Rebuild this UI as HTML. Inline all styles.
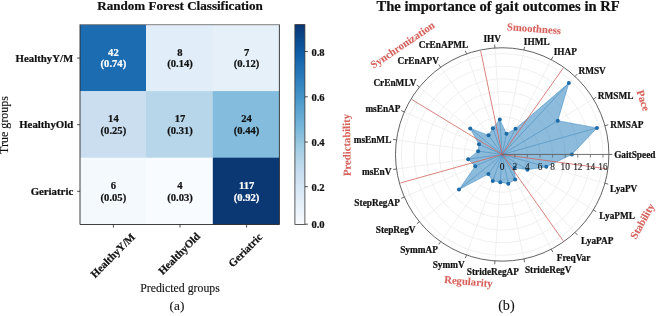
<!DOCTYPE html>
<html><head><meta charset="utf-8"><title>Figure</title>
<style>
html,body{margin:0;padding:0;background:#fff;width:658px;height:316px;overflow:hidden;}
svg{display:block;will-change:transform;}
text{font-family:"Liberation Serif", serif;}
</style></head><body>
<svg width="658" height="316" viewBox="0 0 658 316" font-family='"Liberation Serif", serif' fill="#111"><text x="180" y="10" font-size="13.1" font-weight="bold" fill="#111" stroke="#111" stroke-width="0.22" text-anchor="middle">Random Forest Classification</text>
<rect x="80" y="24.7" width="66.3" height="66.7" fill="#1c6cb1"/>
<rect x="146" y="24.7" width="67.1" height="66.7" fill="#e1edf8"/>
<rect x="212.8" y="24.7" width="66.6" height="66.7" fill="#e5f0f9"/>
<rect x="80" y="91.1" width="66.3" height="66.9" fill="#cbdef0"/>
<rect x="146" y="91.1" width="67.1" height="66.9" fill="#b7d6ea"/>
<rect x="212.8" y="91.1" width="66.6" height="66.9" fill="#83bcdc"/>
<rect x="80" y="157.7" width="66.3" height="66.8" fill="#f4f9fe"/>
<rect x="146" y="157.7" width="67.1" height="66.8" fill="#f8fbff"/>
<rect x="212.8" y="157.7" width="66.6" height="66.8" fill="#0b3773"/>
<text x="113.4" y="55.6" font-size="10.6" font-weight="bold" fill="#ffffff" stroke="#ffffff" stroke-width="0.22" text-anchor="middle">42</text>
<text x="113.4" y="67.4" font-size="10.6" font-weight="bold" fill="#ffffff" stroke="#ffffff" stroke-width="0.22" text-anchor="middle">(0.74)</text>
<text x="180" y="55.6" font-size="10.6" font-weight="bold" fill="#111111" stroke="#111111" stroke-width="0.22" text-anchor="middle">8</text>
<text x="180" y="67.4" font-size="10.6" font-weight="bold" fill="#111111" stroke="#111111" stroke-width="0.22" text-anchor="middle">(0.14)</text>
<text x="246.6" y="55.6" font-size="10.6" font-weight="bold" fill="#111111" stroke="#111111" stroke-width="0.22" text-anchor="middle">7</text>
<text x="246.6" y="67.4" font-size="10.6" font-weight="bold" fill="#111111" stroke="#111111" stroke-width="0.22" text-anchor="middle">(0.12)</text>
<text x="113.4" y="122.2" font-size="10.6" font-weight="bold" fill="#111111" stroke="#111111" stroke-width="0.22" text-anchor="middle">14</text>
<text x="113.4" y="134" font-size="10.6" font-weight="bold" fill="#111111" stroke="#111111" stroke-width="0.22" text-anchor="middle">(0.25)</text>
<text x="180" y="122.2" font-size="10.6" font-weight="bold" fill="#111111" stroke="#111111" stroke-width="0.22" text-anchor="middle">17</text>
<text x="180" y="134" font-size="10.6" font-weight="bold" fill="#111111" stroke="#111111" stroke-width="0.22" text-anchor="middle">(0.31)</text>
<text x="246.6" y="122.2" font-size="10.6" font-weight="bold" fill="#111111" stroke="#111111" stroke-width="0.22" text-anchor="middle">24</text>
<text x="246.6" y="134" font-size="10.6" font-weight="bold" fill="#111111" stroke="#111111" stroke-width="0.22" text-anchor="middle">(0.44)</text>
<text x="113.4" y="188.8" font-size="10.6" font-weight="bold" fill="#111111" stroke="#111111" stroke-width="0.22" text-anchor="middle">6</text>
<text x="113.4" y="200.6" font-size="10.6" font-weight="bold" fill="#111111" stroke="#111111" stroke-width="0.22" text-anchor="middle">(0.05)</text>
<text x="180" y="188.8" font-size="10.6" font-weight="bold" fill="#111111" stroke="#111111" stroke-width="0.22" text-anchor="middle">4</text>
<text x="180" y="200.6" font-size="10.6" font-weight="bold" fill="#111111" stroke="#111111" stroke-width="0.22" text-anchor="middle">(0.03)</text>
<text x="246.6" y="188.8" font-size="10.6" font-weight="bold" fill="#ffffff" stroke="#ffffff" stroke-width="0.22" text-anchor="middle">117</text>
<text x="246.6" y="200.6" font-size="10.6" font-weight="bold" fill="#ffffff" stroke="#ffffff" stroke-width="0.22" text-anchor="middle">(0.92)</text>
<path d="M80,24.7V224.5H279.4V24.7" fill="none" stroke="#2a2a2a" stroke-width="0.9"/>
<line x1="79.55" y1="24.7" x2="279.85" y2="24.7" stroke="#6a6a6a" stroke-width="0.85"/>
<line x1="77.1" y1="58.1" x2="80.1" y2="58.1" stroke="#222" stroke-width="0.8"/>
<text x="73.2" y="61.8" font-size="10.8" font-weight="bold" fill="#111" stroke="#111" stroke-width="0.22" text-anchor="end">HealthyY/M</text>
<line x1="77.1" y1="124.7" x2="80.1" y2="124.7" stroke="#222" stroke-width="0.8"/>
<text x="73.2" y="128.4" font-size="10.8" font-weight="bold" fill="#111" stroke="#111" stroke-width="0.22" text-anchor="end">HealthyOld</text>
<line x1="77.1" y1="191.3" x2="80.1" y2="191.3" stroke="#222" stroke-width="0.8"/>
<text x="73.2" y="195" font-size="10.8" font-weight="bold" fill="#111" stroke="#111" stroke-width="0.22" text-anchor="end">Geriatric</text>
<line x1="113.4" y1="224.6" x2="113.4" y2="227.6" stroke="#222" stroke-width="0.8"/>
<text transform="translate(112.8,255.5) rotate(-45)" x="0" y="3.6" font-size="10.8" font-weight="bold" fill="#111" stroke="#111" stroke-width="0.22" text-anchor="middle">HealthyY/M</text>
<line x1="180" y1="224.6" x2="180" y2="227.6" stroke="#222" stroke-width="0.8"/>
<text transform="translate(179.2,253.6) rotate(-45)" x="0" y="3.6" font-size="10.8" font-weight="bold" fill="#111" stroke="#111" stroke-width="0.22" text-anchor="middle">HealthyOld</text>
<line x1="246.6" y1="224.6" x2="246.6" y2="227.6" stroke="#222" stroke-width="0.8"/>
<text transform="translate(245.3,250.2) rotate(-45)" x="0" y="3.6" font-size="10.8" font-weight="bold" fill="#111" stroke="#111" stroke-width="0.22" text-anchor="middle">Geriatric</text>
<text x="180" y="292" font-size="11.8" stroke="#111" stroke-width="0.12" text-anchor="middle">Predicted groups</text>
<text transform="translate(8.4,125.0) rotate(-90)" x="0" y="0" font-size="12" stroke="#111" stroke-width="0.12" text-anchor="middle">True groups</text>
<text x="177" y="310" font-size="13.3" stroke="#111" stroke-width="0.1" text-anchor="middle">(a)</text>
<defs><linearGradient id="cb" x1="0" y1="0" x2="0" y2="1"><stop offset="0" stop-color="#0b3773"/><stop offset="0.05" stop-color="#0b4485"/><stop offset="0.1" stop-color="#0b5298"/><stop offset="0.15" stop-color="#105fa7"/><stop offset="0.2" stop-color="#1c6cb1"/><stop offset="0.25" stop-color="#2678b9"/><stop offset="0.3" stop-color="#3485c0"/><stop offset="0.35" stop-color="#4292c7"/><stop offset="0.4" stop-color="#529ecd"/><stop offset="0.45" stop-color="#63a9d3"/><stop offset="0.5" stop-color="#72b3d9"/><stop offset="0.55" stop-color="#86bedd"/><stop offset="0.6" stop-color="#9ac9e1"/><stop offset="0.65" stop-color="#acd1e6"/><stop offset="0.7" stop-color="#bcd8eb"/><stop offset="0.75" stop-color="#cadef0"/><stop offset="0.8" stop-color="#d3e4f3"/><stop offset="0.85" stop-color="#dceaf6"/><stop offset="0.9" stop-color="#e5f0f9"/><stop offset="0.95" stop-color="#eff6fc"/><stop offset="1" stop-color="#f8fbff"/></linearGradient></defs>
<rect x="294.9" y="24.6" width="10" height="199.8" fill="url(#cb)" stroke="#333" stroke-width="0.8"/>
<line x1="304.9" y1="51.5" x2="307.9" y2="51.5" stroke="#222" stroke-width="0.8"/>
<text x="311.4" y="55.7" font-size="10.6" font-weight="bold" fill="#111" stroke="#111" stroke-width="0.22">0.8</text>
<line x1="304.9" y1="96.8" x2="307.9" y2="96.8" stroke="#222" stroke-width="0.8"/>
<text x="311.4" y="101" font-size="10.6" font-weight="bold" fill="#111" stroke="#111" stroke-width="0.22">0.6</text>
<line x1="304.9" y1="142" x2="307.9" y2="142" stroke="#222" stroke-width="0.8"/>
<text x="311.4" y="146.2" font-size="10.6" font-weight="bold" fill="#111" stroke="#111" stroke-width="0.22">0.4</text>
<line x1="304.9" y1="186.7" x2="307.9" y2="186.7" stroke="#222" stroke-width="0.8"/>
<text x="311.4" y="190.9" font-size="10.6" font-weight="bold" fill="#111" stroke="#111" stroke-width="0.22">0.2</text>
<line x1="304.9" y1="224.2" x2="307.9" y2="224.2" stroke="#222" stroke-width="0.8"/>
<text x="311.4" y="228.4" font-size="10.6" font-weight="bold" fill="#111" stroke="#111" stroke-width="0.22">0.0</text>
<text x="498.1" y="11" font-size="14.6" font-weight="bold" fill="#111" stroke="#111" stroke-width="0.22" text-anchor="middle">The importance of gait outcomes in RF</text>
<circle cx="502.2" cy="154.45" r="12.6" fill="none" stroke="#e9e9e9" stroke-width="0.7"/>
<circle cx="502.2" cy="154.45" r="25.2" fill="none" stroke="#e9e9e9" stroke-width="0.7"/>
<circle cx="502.2" cy="154.45" r="37.8" fill="none" stroke="#e9e9e9" stroke-width="0.7"/>
<circle cx="502.2" cy="154.45" r="50.4" fill="none" stroke="#e9e9e9" stroke-width="0.7"/>
<circle cx="502.2" cy="154.45" r="63" fill="none" stroke="#e9e9e9" stroke-width="0.7"/>
<circle cx="502.2" cy="154.45" r="75.6" fill="none" stroke="#e9e9e9" stroke-width="0.7"/>
<circle cx="502.2" cy="154.45" r="88.2" fill="none" stroke="#e9e9e9" stroke-width="0.7"/>
<circle cx="502.2" cy="154.45" r="100.8" fill="none" stroke="#e9e9e9" stroke-width="0.7"/>
<line x1="502.2" y1="154.45" x2="608.9" y2="154.45" stroke="#e9e9e9" stroke-width="0.7"/>
<line x1="502.2" y1="154.45" x2="604.94" y2="125.66" stroke="#e9e9e9" stroke-width="0.7"/>
<line x1="502.2" y1="154.45" x2="593.37" y2="99.01" stroke="#e9e9e9" stroke-width="0.7"/>
<line x1="502.2" y1="154.45" x2="575.03" y2="76.47" stroke="#e9e9e9" stroke-width="0.7"/>
<line x1="502.2" y1="154.45" x2="551.29" y2="59.71" stroke="#e9e9e9" stroke-width="0.7"/>
<line x1="502.2" y1="154.45" x2="523.91" y2="49.98" stroke="#e9e9e9" stroke-width="0.7"/>
<line x1="502.2" y1="154.45" x2="494.92" y2="48" stroke="#e9e9e9" stroke-width="0.7"/>
<line x1="502.2" y1="154.45" x2="466.47" y2="53.91" stroke="#e9e9e9" stroke-width="0.7"/>
<line x1="502.2" y1="154.45" x2="440.67" y2="67.28" stroke="#e9e9e9" stroke-width="0.7"/>
<line x1="502.2" y1="154.45" x2="419.43" y2="87.11" stroke="#e9e9e9" stroke-width="0.7"/>
<line x1="502.2" y1="154.45" x2="404.33" y2="111.94" stroke="#e9e9e9" stroke-width="0.7"/>
<line x1="502.2" y1="154.45" x2="396.49" y2="139.92" stroke="#e9e9e9" stroke-width="0.7"/>
<line x1="502.2" y1="154.45" x2="396.49" y2="168.98" stroke="#e9e9e9" stroke-width="0.7"/>
<line x1="502.2" y1="154.45" x2="404.33" y2="196.96" stroke="#e9e9e9" stroke-width="0.7"/>
<line x1="502.2" y1="154.45" x2="419.43" y2="221.79" stroke="#e9e9e9" stroke-width="0.7"/>
<line x1="502.2" y1="154.45" x2="440.67" y2="241.62" stroke="#e9e9e9" stroke-width="0.7"/>
<line x1="502.2" y1="154.45" x2="466.47" y2="254.99" stroke="#e9e9e9" stroke-width="0.7"/>
<line x1="502.2" y1="154.45" x2="494.92" y2="260.9" stroke="#e9e9e9" stroke-width="0.7"/>
<line x1="502.2" y1="154.45" x2="523.91" y2="258.92" stroke="#e9e9e9" stroke-width="0.7"/>
<line x1="502.2" y1="154.45" x2="551.29" y2="249.19" stroke="#e9e9e9" stroke-width="0.7"/>
<line x1="502.2" y1="154.45" x2="575.03" y2="232.43" stroke="#e9e9e9" stroke-width="0.7"/>
<line x1="502.2" y1="154.45" x2="593.37" y2="209.89" stroke="#e9e9e9" stroke-width="0.7"/>
<line x1="502.2" y1="154.45" x2="604.94" y2="183.24" stroke="#e9e9e9" stroke-width="0.7"/>
<polygon points="571.9,154.45 596.95,127.9 557.74,120.68 568.85,83.08 515.5,128.79 506.49,133.79 499.81,119.48 492.89,128.26 488.59,135.17 470.24,128.45 478.99,144.37 478.13,151.14 468.12,159.13 475.23,166.16 458.99,189.6 488.36,174.06 492.72,181.12 500.3,182.19 508.3,183.82 515.17,179.49 514.62,167.75 527.41,169.78 546.3,166.81" fill="#1a78ba" fill-opacity="0.5" stroke="#1f77b4" stroke-opacity="0.6" stroke-width="0.7"/>
<line x1="502.2" y1="154.45" x2="571.9" y2="154.45" stroke="#1f77b4" stroke-opacity="0.45" stroke-width="0.7"/>
<line x1="502.2" y1="154.45" x2="596.95" y2="127.9" stroke="#1f77b4" stroke-opacity="0.45" stroke-width="0.7"/>
<line x1="502.2" y1="154.45" x2="557.74" y2="120.68" stroke="#1f77b4" stroke-opacity="0.45" stroke-width="0.7"/>
<line x1="502.2" y1="154.45" x2="568.85" y2="83.08" stroke="#1f77b4" stroke-opacity="0.45" stroke-width="0.7"/>
<line x1="502.2" y1="154.45" x2="515.5" y2="128.79" stroke="#1f77b4" stroke-opacity="0.45" stroke-width="0.7"/>
<line x1="502.2" y1="154.45" x2="506.49" y2="133.79" stroke="#1f77b4" stroke-opacity="0.45" stroke-width="0.7"/>
<line x1="502.2" y1="154.45" x2="499.81" y2="119.48" stroke="#1f77b4" stroke-opacity="0.45" stroke-width="0.7"/>
<line x1="502.2" y1="154.45" x2="492.89" y2="128.26" stroke="#1f77b4" stroke-opacity="0.45" stroke-width="0.7"/>
<line x1="502.2" y1="154.45" x2="488.59" y2="135.17" stroke="#1f77b4" stroke-opacity="0.45" stroke-width="0.7"/>
<line x1="502.2" y1="154.45" x2="470.24" y2="128.45" stroke="#1f77b4" stroke-opacity="0.45" stroke-width="0.7"/>
<line x1="502.2" y1="154.45" x2="478.99" y2="144.37" stroke="#1f77b4" stroke-opacity="0.45" stroke-width="0.7"/>
<line x1="502.2" y1="154.45" x2="478.13" y2="151.14" stroke="#1f77b4" stroke-opacity="0.45" stroke-width="0.7"/>
<line x1="502.2" y1="154.45" x2="468.12" y2="159.13" stroke="#1f77b4" stroke-opacity="0.45" stroke-width="0.7"/>
<line x1="502.2" y1="154.45" x2="475.23" y2="166.16" stroke="#1f77b4" stroke-opacity="0.45" stroke-width="0.7"/>
<line x1="502.2" y1="154.45" x2="458.99" y2="189.6" stroke="#1f77b4" stroke-opacity="0.45" stroke-width="0.7"/>
<line x1="502.2" y1="154.45" x2="488.36" y2="174.06" stroke="#1f77b4" stroke-opacity="0.45" stroke-width="0.7"/>
<line x1="502.2" y1="154.45" x2="492.72" y2="181.12" stroke="#1f77b4" stroke-opacity="0.45" stroke-width="0.7"/>
<line x1="502.2" y1="154.45" x2="500.3" y2="182.19" stroke="#1f77b4" stroke-opacity="0.45" stroke-width="0.7"/>
<line x1="502.2" y1="154.45" x2="508.3" y2="183.82" stroke="#1f77b4" stroke-opacity="0.45" stroke-width="0.7"/>
<line x1="502.2" y1="154.45" x2="515.17" y2="179.49" stroke="#1f77b4" stroke-opacity="0.45" stroke-width="0.7"/>
<line x1="502.2" y1="154.45" x2="514.62" y2="167.75" stroke="#1f77b4" stroke-opacity="0.45" stroke-width="0.7"/>
<line x1="502.2" y1="154.45" x2="527.41" y2="169.78" stroke="#1f77b4" stroke-opacity="0.45" stroke-width="0.7"/>
<line x1="502.2" y1="154.45" x2="546.3" y2="166.81" stroke="#1f77b4" stroke-opacity="0.45" stroke-width="0.7"/>
<line x1="502.2" y1="154.45" x2="563.16" y2="68.1" stroke="#d0665f" stroke-opacity="0.85" stroke-width="0.95"/>
<line x1="502.2" y1="154.45" x2="480.69" y2="50.96" stroke="#d0665f" stroke-opacity="0.85" stroke-width="0.95"/>
<line x1="502.2" y1="154.45" x2="411.89" y2="99.53" stroke="#d0665f" stroke-opacity="0.85" stroke-width="0.95"/>
<line x1="502.2" y1="154.45" x2="400.42" y2="182.97" stroke="#d0665f" stroke-opacity="0.85" stroke-width="0.95"/>
<line x1="502.2" y1="154.45" x2="563.16" y2="240.8" stroke="#d0665f" stroke-opacity="0.85" stroke-width="0.95"/>
<line x1="502.2" y1="154.45" x2="606.92" y2="168.84" stroke="#d0665f" stroke-opacity="0.85" stroke-width="0.95"/>
<circle cx="571.9" cy="154.45" r="2.0" fill="#1c6aa6"/>
<circle cx="596.95" cy="127.9" r="2.0" fill="#1c6aa6"/>
<circle cx="557.74" cy="120.68" r="2.0" fill="#1c6aa6"/>
<circle cx="568.85" cy="83.08" r="2.0" fill="#1c6aa6"/>
<circle cx="515.5" cy="128.79" r="2.0" fill="#1c6aa6"/>
<circle cx="506.49" cy="133.79" r="2.0" fill="#1c6aa6"/>
<circle cx="499.81" cy="119.48" r="2.0" fill="#1c6aa6"/>
<circle cx="492.89" cy="128.26" r="2.0" fill="#1c6aa6"/>
<circle cx="488.59" cy="135.17" r="2.0" fill="#1c6aa6"/>
<circle cx="470.24" cy="128.45" r="2.0" fill="#1c6aa6"/>
<circle cx="478.99" cy="144.37" r="2.0" fill="#1c6aa6"/>
<circle cx="478.13" cy="151.14" r="2.0" fill="#1c6aa6"/>
<circle cx="468.12" cy="159.13" r="2.0" fill="#1c6aa6"/>
<circle cx="475.23" cy="166.16" r="2.0" fill="#1c6aa6"/>
<circle cx="458.99" cy="189.6" r="2.0" fill="#1c6aa6"/>
<circle cx="488.36" cy="174.06" r="2.0" fill="#1c6aa6"/>
<circle cx="492.72" cy="181.12" r="2.0" fill="#1c6aa6"/>
<circle cx="500.3" cy="182.19" r="2.0" fill="#1c6aa6"/>
<circle cx="508.3" cy="183.82" r="2.0" fill="#1c6aa6"/>
<circle cx="515.17" cy="179.49" r="2.0" fill="#1c6aa6"/>
<circle cx="514.62" cy="167.75" r="2.0" fill="#1c6aa6"/>
<circle cx="527.41" cy="169.78" r="2.0" fill="#1c6aa6"/>
<circle cx="546.3" cy="166.81" r="2.0" fill="#1c6aa6"/>
<circle cx="502.2" cy="154.45" r="106.7" fill="none" stroke="#5a5a5a" stroke-width="0.95"/>
<line x1="608.9" y1="154.45" x2="612.3" y2="154.45" stroke="#444" stroke-width="0.8"/>
<line x1="604.94" y1="125.66" x2="608.22" y2="124.75" stroke="#444" stroke-width="0.8"/>
<line x1="593.37" y1="99.01" x2="596.27" y2="97.24" stroke="#444" stroke-width="0.8"/>
<line x1="575.03" y1="76.47" x2="577.35" y2="73.98" stroke="#444" stroke-width="0.8"/>
<line x1="551.29" y1="59.71" x2="552.85" y2="56.69" stroke="#444" stroke-width="0.8"/>
<line x1="523.91" y1="49.98" x2="524.6" y2="46.65" stroke="#444" stroke-width="0.8"/>
<line x1="494.92" y1="48" x2="494.69" y2="44.61" stroke="#444" stroke-width="0.8"/>
<line x1="466.47" y1="53.91" x2="465.33" y2="50.71" stroke="#444" stroke-width="0.8"/>
<line x1="440.67" y1="67.28" x2="438.71" y2="64.5" stroke="#444" stroke-width="0.8"/>
<line x1="419.43" y1="87.11" x2="416.79" y2="84.97" stroke="#444" stroke-width="0.8"/>
<line x1="404.33" y1="111.94" x2="401.22" y2="110.59" stroke="#444" stroke-width="0.8"/>
<line x1="396.49" y1="139.92" x2="393.13" y2="139.46" stroke="#444" stroke-width="0.8"/>
<line x1="396.49" y1="168.98" x2="393.13" y2="169.44" stroke="#444" stroke-width="0.8"/>
<line x1="404.33" y1="196.96" x2="401.22" y2="198.31" stroke="#444" stroke-width="0.8"/>
<line x1="419.43" y1="221.79" x2="416.79" y2="223.93" stroke="#444" stroke-width="0.8"/>
<line x1="440.67" y1="241.62" x2="438.71" y2="244.4" stroke="#444" stroke-width="0.8"/>
<line x1="466.47" y1="254.99" x2="465.33" y2="258.19" stroke="#444" stroke-width="0.8"/>
<line x1="494.92" y1="260.9" x2="494.69" y2="264.29" stroke="#444" stroke-width="0.8"/>
<line x1="523.91" y1="258.92" x2="524.6" y2="262.25" stroke="#444" stroke-width="0.8"/>
<line x1="551.29" y1="249.19" x2="552.85" y2="252.21" stroke="#444" stroke-width="0.8"/>
<line x1="575.03" y1="232.43" x2="577.35" y2="234.92" stroke="#444" stroke-width="0.8"/>
<line x1="593.37" y1="209.89" x2="596.27" y2="211.66" stroke="#444" stroke-width="0.8"/>
<line x1="604.94" y1="183.24" x2="608.22" y2="184.15" stroke="#444" stroke-width="0.8"/>
<line x1="502.2" y1="154.45" x2="608.9" y2="154.45" stroke="#666" stroke-width="0.9"/>
<line x1="514.8" y1="154.45" x2="514.8" y2="157.45" stroke="#666" stroke-width="0.8"/>
<line x1="527.4" y1="154.45" x2="527.4" y2="157.45" stroke="#666" stroke-width="0.8"/>
<line x1="540" y1="154.45" x2="540" y2="157.45" stroke="#666" stroke-width="0.8"/>
<line x1="552.6" y1="154.45" x2="552.6" y2="157.45" stroke="#666" stroke-width="0.8"/>
<line x1="565.2" y1="154.45" x2="565.2" y2="157.45" stroke="#666" stroke-width="0.8"/>
<line x1="577.8" y1="154.45" x2="577.8" y2="157.45" stroke="#666" stroke-width="0.8"/>
<line x1="590.4" y1="154.45" x2="590.4" y2="157.45" stroke="#666" stroke-width="0.8"/>
<line x1="603" y1="154.45" x2="603" y2="157.45" stroke="#666" stroke-width="0.8"/>
<text x="502.2" y="170" font-size="9.3" fill="#1c1c1c" stroke="#1c1c1c" stroke-width="0.12" text-anchor="middle">0</text>
<text x="514.8" y="170" font-size="9.3" fill="#1c1c1c" stroke="#1c1c1c" stroke-width="0.12" text-anchor="middle">2</text>
<text x="527.4" y="170" font-size="9.3" fill="#1c1c1c" stroke="#1c1c1c" stroke-width="0.12" text-anchor="middle">4</text>
<text x="540" y="170" font-size="9.3" fill="#1c1c1c" stroke="#1c1c1c" stroke-width="0.12" text-anchor="middle">6</text>
<text x="552.6" y="170" font-size="9.3" fill="#1c1c1c" stroke="#1c1c1c" stroke-width="0.12" text-anchor="middle">8</text>
<text x="565.2" y="170" font-size="9.3" fill="#1c1c1c" stroke="#1c1c1c" stroke-width="0.12" text-anchor="middle">10</text>
<text x="577.8" y="170" font-size="9.3" fill="#1c1c1c" stroke="#1c1c1c" stroke-width="0.12" text-anchor="middle">12</text>
<text x="590.4" y="170" font-size="9.3" fill="#1c1c1c" stroke="#1c1c1c" stroke-width="0.12" text-anchor="middle">14</text>
<text x="603" y="170" font-size="9.3" fill="#1c1c1c" stroke="#1c1c1c" stroke-width="0.12" text-anchor="middle">16</text>
<text x="634.8" y="158" font-size="9.3" font-weight="bold" fill="#111" stroke="#111" stroke-width="0.22" text-anchor="middle">GaitSpeed</text>
<text x="626.85" y="128" font-size="9.3" font-weight="bold" fill="#111" stroke="#111" stroke-width="0.22" text-anchor="middle">RMSAP</text>
<text x="615.6" y="99" font-size="9.3" font-weight="bold" fill="#111" stroke="#111" stroke-width="0.22" text-anchor="middle">RMSML</text>
<text x="592.15" y="74" font-size="9.3" font-weight="bold" fill="#111" stroke="#111" stroke-width="0.22" text-anchor="middle">RMSV</text>
<text x="565.3" y="55" font-size="9.3" font-weight="bold" fill="#111" stroke="#111" stroke-width="0.22" text-anchor="middle">IHAP</text>
<text x="536.7" y="45" font-size="9.3" font-weight="bold" fill="#111" stroke="#111" stroke-width="0.22" text-anchor="middle">IHML</text>
<text x="492.25" y="42" font-size="9.3" font-weight="bold" fill="#111" stroke="#111" stroke-width="0.22" text-anchor="middle">IHV</text>
<text x="443.5" y="48" font-size="9.3" font-weight="bold" fill="#111" stroke="#111" stroke-width="0.22" text-anchor="middle">CrEnAPML</text>
<text x="418.2" y="64" font-size="9.3" font-weight="bold" fill="#111" stroke="#111" stroke-width="0.22" text-anchor="middle">CrEnAPV</text>
<text x="394.95" y="86" font-size="9.3" font-weight="bold" fill="#111" stroke="#111" stroke-width="0.22" text-anchor="middle">CrEnMLV</text>
<text x="382.95" y="112" font-size="9.3" font-weight="bold" fill="#111" stroke="#111" stroke-width="0.22" text-anchor="middle">msEnAP</text>
<text x="372.5" y="143" font-size="9.3" font-weight="bold" fill="#111" stroke="#111" stroke-width="0.22" text-anchor="middle">msEnML</text>
<text x="376.7" y="175" font-size="9.3" font-weight="bold" fill="#111" stroke="#111" stroke-width="0.22" text-anchor="middle">msEnV</text>
<text x="377.1" y="206" font-size="9.3" font-weight="bold" fill="#111" stroke="#111" stroke-width="0.22" text-anchor="middle">StepRegAP</text>
<text x="395.65" y="233" font-size="9.3" font-weight="bold" fill="#111" stroke="#111" stroke-width="0.22" text-anchor="middle">StepRegV</text>
<text x="419" y="253" font-size="9.3" font-weight="bold" fill="#111" stroke="#111" stroke-width="0.22" text-anchor="middle">SymmAP</text>
<text x="448.65" y="268" font-size="9.3" font-weight="bold" fill="#111" stroke="#111" stroke-width="0.22" text-anchor="middle">SymmV</text>
<text x="492.9" y="275" font-size="9.3" font-weight="bold" fill="#111" stroke="#111" stroke-width="0.22" text-anchor="middle">StrideRegAP</text>
<text x="548.15" y="273" font-size="9.3" font-weight="bold" fill="#111" stroke="#111" stroke-width="0.22" text-anchor="middle">StrideRegV</text>
<text x="573.5" y="261" font-size="9.3" font-weight="bold" fill="#111" stroke="#111" stroke-width="0.22" text-anchor="middle">FreqVar</text>
<text x="597.3" y="244" font-size="9.3" font-weight="bold" fill="#111" stroke="#111" stroke-width="0.22" text-anchor="middle">LyaPAP</text>
<text x="617.15" y="219" font-size="9.3" font-weight="bold" fill="#111" stroke="#111" stroke-width="0.22" text-anchor="middle">LyaPML</text>
<text x="623.65" y="192" font-size="9.3" font-weight="bold" fill="#111" stroke="#111" stroke-width="0.22" text-anchor="middle">LyaPV</text>
<text transform="translate(534,28.7) rotate(4.3)" x="0" y="3.5" font-size="10.7" font-weight="bold" fill="#d6625c" stroke="#d6625c" stroke-width="0.1" text-anchor="middle">Smoothness</text>
<text transform="translate(402.6,45) rotate(-34)" x="0" y="3.5" font-size="10.7" font-weight="bold" fill="#d6625c" stroke="#d6625c" stroke-width="0.1" text-anchor="middle">Synchronization</text>
<text transform="translate(346.8,145) rotate(-91)" x="0" y="3.5" font-size="10.7" font-weight="bold" fill="#d6625c" stroke="#d6625c" stroke-width="0.1" text-anchor="middle">Predictability</text>
<text transform="translate(643.2,100.6) rotate(72)" x="0" y="3.5" font-size="10.7" font-weight="bold" fill="#d6625c" stroke="#d6625c" stroke-width="0.1" text-anchor="middle">Pace</text>
<text transform="translate(642.4,221.2) rotate(-61)" x="0" y="3.5" font-size="10.7" font-weight="bold" fill="#d6625c" stroke="#d6625c" stroke-width="0.1" text-anchor="middle">Stability</text>
<text transform="translate(468.5,281.6) rotate(5)" x="0" y="3.5" font-size="10.7" font-weight="bold" fill="#d6625c" stroke="#d6625c" stroke-width="0.1" text-anchor="middle">Regularity</text>
<text x="506.4" y="310" font-size="14.2" stroke="#111" stroke-width="0.1" text-anchor="middle">(b)</text></svg>
</body></html>
